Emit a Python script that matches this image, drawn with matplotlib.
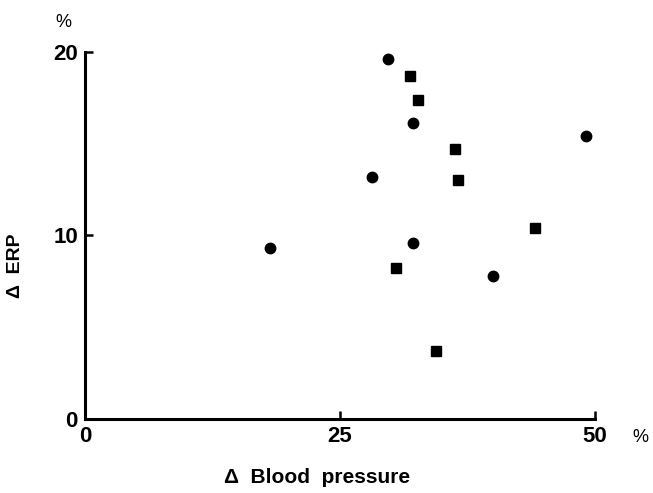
import matplotlib
matplotlib.use("Agg")
import matplotlib.pyplot as plt

# values (percent change)
circleBP = [18.1, 29.7, 28.1, 32.2, 32.2, 40.0, 49.1]
circleERP = [9.3, 19.6, 13.2, 16.1, 9.6, 7.8, 15.4]
squareBP = [31.9, 32.7, 36.3, 36.6, 44.1, 30.5, 34.4]
squareERP = [18.7, 17.4, 14.7, 13.0, 10.4, 8.2, 3.7]
xTicks = [0, 25, 50]
yTicks = [0, 10, 20]

plt.rcParams['font.family'] = ['Liberation Sans', 'DejaVu Sans']

fig = plt.figure(figsize=(6.53, 4.93), dpi=100)
ax = fig.add_axes([0.130, 0.150, 0.781, 0.745])

ax.plot(circleBP, circleERP, linestyle="none", marker="o", markersize=7.5, color="black", clip_on=False)
ax.plot(squareBP, squareERP, linestyle="none", marker="s", markersize=6.8, color="black", clip_on=False)

ax.set_xlim(0, 50)
ax.set_ylim(0, 20)
for side in ("top", "right"):
    ax.spines[side].set_visible(False)
for side in ("left", "bottom"):
    ax.spines[side].set_linewidth(2.2)

ax.set_xticks(xTicks)
ax.set_yticks(yTicks)
ax.tick_params(direction="in", length=6, width=1.8, labelsize=16)
ax.tick_params(axis="x", pad=5)
ax.tick_params(axis="y", pad=5)
for lbl in ax.get_xticklabels() + ax.get_yticklabels():
    lbl.set_fontweight("bold")

ax.set_xlabel("Δ  Blood  pressure", fontsize=15, fontweight="bold")
ax.xaxis.set_label_coords(0.455, -0.132)
ax.set_ylabel("Δ  ERP", fontsize=14, fontweight="bold")
ax.yaxis.set_label_coords(-0.12, 0.417)

fig.text(0.097, 0.955, "%", fontsize=13, ha="center", va="center")
fig.text(0.981, 0.113, "%", fontsize=13, ha="center", va="center")

fig.savefig("out.png", dpi=100)
